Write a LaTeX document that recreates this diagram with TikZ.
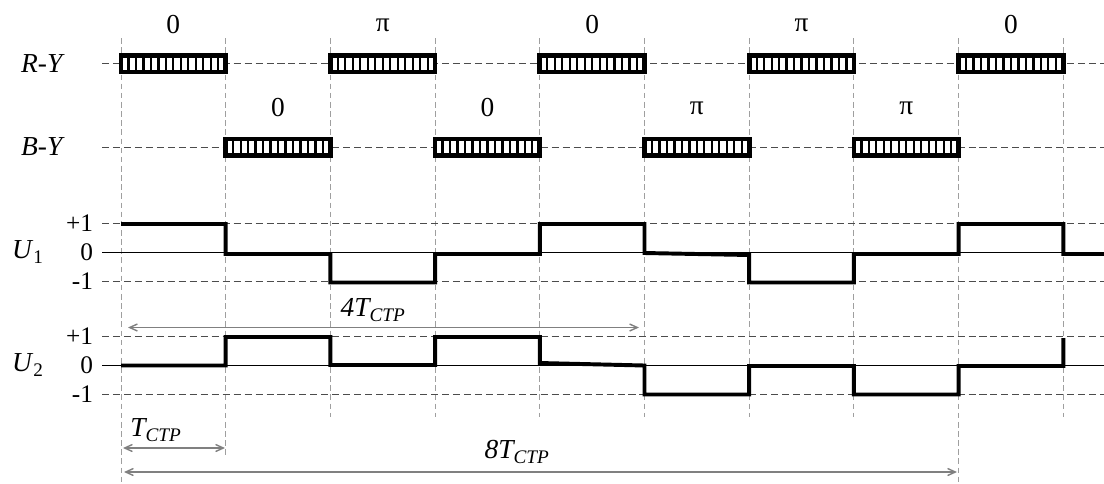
\documentclass[tikz,border=0pt]{standalone}
\usepackage{fontspec}
\setmainfont{Liberation Serif}
\usetikzlibrary{arrows.meta}

\tikzset{
  grid/.style={gray!75, line width=0.6pt, dash pattern=on 4pt off 2.5pt},
  level/.style={black!70, line width=0.6pt, dash pattern=on 5pt off 2.8pt},
  sig/.style={line width=2.8pt, line join=miter},
  burst/.style={line width=3.4pt},
  dim/.style={gray, line width=1pt,
    {Straight Barb[length=5.5pt,width=5pt]}-{Straight Barb[length=5.5pt,width=5pt]}},
  lev/.style={left, font=\fontsize{18}{20}\selectfont},
}

\begin{document}
\begin{tikzpicture}[x=0.025cm, y=-0.025cm, font=\fontsize{19.5}{22}\selectfont]
    \useasboundingbox (0,0) rectangle (1104,483);
    % vertical grid
    \draw[grid] (121,38) -- (121,483);
    \draw[grid] (225.7,38) -- (225.7,457);
    \draw[grid] (330.4,38) -- (330.4,417);
    \draw[grid] (435.1,38) -- (435.1,417);
    \draw[grid] (539.8,38) -- (539.8,417);
    \draw[grid] (644.5,38) -- (644.5,417);
    \draw[grid] (749.2,38) -- (749.2,417);
    \draw[grid] (853.9,38) -- (853.9,417);
    \draw[grid] (958.6,38) -- (958.6,483);
    \draw[grid] (1063.3,38) -- (1063.3,417);
    % horizontal levels
    \draw[level] (102,63.5) -- (1104,63.5);
    \draw[level] (102,147) -- (1104,147);
    \draw[level] (102,223) -- (1104,223);
    \draw (102,252.5) -- (1104,252.5);
    \draw[level] (102,281) -- (1104,281);
    \draw[level] (102,336) -- (1104,336);
    \draw (102,365) -- (1104,365);
    \draw[level] (102,394) -- (1104,394);
    % row names
    \node (ry) at (43,63.5) {\textit{R-Y}};
    \node (by) at (43,147) {\textit{B-Y}};
    \node (u1) at (28,252) {\textit{U}\textsubscript{1}};
    \node (u2) at (28,365) {\textit{U}\textsubscript{2}};
    \node[lev] (u1p) at (98,223) {+1};
    \node[lev] (u1z) at (98,252.5) {0};
    \node[lev] (u1m) at (98,281) {-1};
    \node[lev] (u2p) at (98,336) {+1};
    \node[lev] (u2z) at (98,365) {0};
    \node[lev] (u2m) at (98,394) {-1};
    % R-Y bursts
    \foreach \x/\p [count=\n] in {121/0, 330.4/π, 539.8/0, 749.2/π, 958.6/0} {
      \fill[white] (\x,55.5) rectangle ++(104.7,16.5);
      \foreach \k in {1,...,13}
        \draw[line width=1.6pt] (\x+\k*7.48,55.5) -- ++(0,16.5);
      \draw[burst] (\x,55.5) rectangle ++(104.7,16.5);
      \node (rp\n) at (\x+52.35,25) {\p};
    }
    % B-Y bursts
    \foreach \x/\p [count=\n] in {225.7/0, 435.1/0, 644.5/π, 853.9/π} {
      \fill[white] (\x,139) rectangle ++(104.7,16.5);
      \foreach \k in {1,...,13}
        \draw[line width=1.6pt] (\x+\k*7.48,139) -- ++(0,16.5);
      \draw[burst] (\x,139) rectangle ++(104.7,16.5);
      \node (bp\n) at (\x+52.35,108) {\p};
    }
    % U1
    \draw[sig] (121,224) -- (225.7,224) -- (225.7,254) -- (330.4,254)
      -- (330.4,282.5) -- (435.1,282.5) -- (435.1,254) -- (539.8,254)
      -- (539.8,224) -- (644.5,224) -- (644.5,253) -- (749.2,255)
      -- (749.2,282.5) -- (853.9,282.5) -- (853.9,254) -- (958.6,254)
      -- (958.6,224) -- (1063.3,224) -- (1063.3,254) -- (1104,254);
    % U2
    \draw[sig] (121,365.5) -- (225.7,365.5) -- (225.7,337) -- (330.4,337)
      -- (330.4,365) -- (435.1,365) -- (435.1,337) -- (539.8,337)
      -- (539.8,363) -- (644.5,365.5) -- (644.5,394.5) -- (749.2,394.5)
      -- (749.2,366) -- (853.9,366) -- (853.9,394.5) -- (958.6,394.5)
      -- (958.6,366) -- (1063.3,366) -- (1063.3,338);
    % periods
    \coordinate (f1) at (128,327.5);
    \coordinate (f2) at (639,327.5);
    \draw[dim] (f1) -- (f2);
    \node (f) at (373,310) {\textit{4T\textsubscript{CTP}}};
    \coordinate (t1) at (123,448);
    \coordinate (t2) at (225,448);
    \draw[dim] (t1) -- (t2);
    \node (t) at (156,430) {\textit{T\textsubscript{CTP}}};
    \coordinate (e1) at (124,472);
    \coordinate (e2) at (957,472);
    \draw[dim] (e1) -- (e2);
    \node (e) at (517,452) {\textit{8T\textsubscript{CTP}}};
  \end{tikzpicture}
\end{document}
